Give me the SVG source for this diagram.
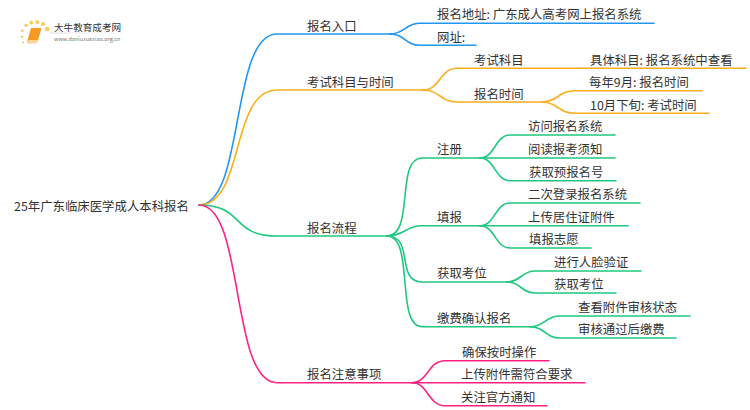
<svg xmlns="http://www.w3.org/2000/svg" width="750" height="410" viewBox="0 0 750 410">
<style>
text{font-family:"Noto Sans CJK SC","Noto Sans",sans-serif;font-size:12.4px;fill:#333}
.c path{fill:none;stroke-width:1.6;stroke-linecap:round}
.b path{stroke:#2196f3}.o path{stroke:#fbad1c}.g path{stroke:#1fc77e}.p path{stroke:#ff2280}
</style>
<defs><linearGradient id="fade"><stop offset="0" stop-color="#ddd"/><stop offset="1" stop-color="#ddd" stop-opacity="0"/></linearGradient></defs>
<rect width="750" height="410" fill="#fff"/>
<g id="logo">
<g fill="#fbc95a"><circle cx="47.300" cy="29" r="2.300"/><circle cx="43" cy="24" r="2"/><circle cx="37.300" cy="22" r="2"/><circle cx="31.300" cy="22.700" r="1.900"/><circle cx="26" cy="25.300" r="1.600"/><circle cx="22.300" cy="30.700" r="1.400"/><circle cx="22" cy="36.700" r="1.200"/><circle cx="23.300" cy="42.300" r="1"/></g>
<path d="M31 28H40.500Q41.500 28 41 30L38 40.500H29L27 42Z" fill="#f59a23"/><path d="M27 42Q27.500 40.500 29 40.500H38L37 43Q36.800 43.500 36 43.500H28Q27 43.500 27 42Z" fill="#fbd49a"/>
<rect x="50" y="32.500" width="85" height="1" fill="url(#fade)"/>
<text x="54" y="31" style="font-size:9.600px">大牛教育成考网</text>
<text x="54" y="41" style="font-size:5.500px;fill:#777">www.daniuxuexiao.org.cn</text>
</g>
<g id="connectors" class="c">
<g class="b"><path d="M199 205C245 205 230 34 277 34H390"/><path d="M390 34C405 34 405 23.300 420 23.300H654"/><path d="M390 34C405 34 405 45.300 420 45.300H476"/></g>
<g class="o"><path d="M199 205C245 205 230 90 277 90H423"/><path d="M423 90C440 90 440 68.300 457 68.300H746"/><path d="M423 90C440 90 440 102 457 102H542"/><path d="M542 102C558 102 558 90.700 575 90.700H702"/><path d="M542 102C558 102 558 113.300 575 113.300H709"/></g>
<g class="g"><path d="M199 205C245 205 230 236 277 236H387"/><path d="M387 236C415 236 395 158 422 158H480"/><path d="M387 236C405 236 405 225.700 422 225.700H480"/><path d="M387 236C415 236 395 282 422 282H507"/><path d="M387 236C415 236 395 326.700 422 326.700H530"/>
<path d="M480 158C495 158 495 135 510 135H615"/><path d="M480 158H615"/><path d="M480 158C495 158 495 180.700 510 180.700H616"/>
<path d="M480 225.700C495 225.700 495 203 510 203H640"/><path d="M480 225.700H628"/><path d="M480 225.700C495 225.700 495 248 510 248H591"/>
<path d="M507 282C521 282 521 271 535 271H641"/><path d="M507 282C521 282 521 293 535 293H616"/>
<path d="M530 326.700C545 326.700 545 316 560 316H690"/><path d="M530 326.700C545 326.700 545 338 560 338H676"/></g>
<g class="p"><path d="M199 205C245 205 230 382.700 277 382.700H412"/><path d="M412 382.700C428 382.700 428 360.700 445 360.700H549"/><path d="M412 382.700H585"/><path d="M412 382.700C428 382.700 428 405.700 445 405.700H547"/></g>
</g>
<g id="n0"><text x="14" y="210.500">25年广东临床医学成人本科报名</text></g>
<g id="n1"><text x="307" y="30.500">报名入口</text></g>
<g id="n2"><text x="437" y="19">报名地址: 广东成人高考网上报名系统</text></g>
<g id="n3"><text x="437" y="41.500">网址:</text></g>
<g id="n4"><text x="307" y="86.500">考试科目与时间</text></g>
<g id="n5"><text x="474" y="64.500">考试科目</text></g>
<g id="n6"><text x="590" y="64.500">具体科目: 报名系统中查看</text></g>
<g id="n7"><text x="474" y="98.500">报名时间</text></g>
<g id="n8"><text x="589" y="86.500">每年9月: 报名时间</text></g>
<g id="n9"><text x="590" y="109.500">10月下旬: 考试时间</text></g>
<g id="n10"><text x="307" y="232.500">报名流程</text></g>
<g id="n11"><text x="437" y="154">注册</text></g>
<g id="n12"><text x="528" y="131">访问报名系统</text></g>
<g id="n13"><text x="528" y="154">阅读报考须知</text></g>
<g id="n14"><text x="529" y="177">获取预报名号</text></g>
<g id="n15"><text x="437" y="221.500">填报</text></g>
<g id="n16"><text x="528" y="199">二次登录报名系统</text></g>
<g id="n17"><text x="528" y="221.500">上传居住证附件</text></g>
<g id="n18"><text x="529" y="244">填报志愿</text></g>
<g id="n19"><text x="437" y="278">获取考位</text></g>
<g id="n20"><text x="554" y="266.500">进行人脸验证</text></g>
<g id="n21"><text x="554" y="289">获取考位</text></g>
<g id="n22"><text x="437" y="322.500">缴费确认报名</text></g>
<g id="n23"><text x="578" y="311.500">查看附件审核状态</text></g>
<g id="n24"><text x="578" y="334">审核通过后缴费</text></g>
<g id="n25"><text x="307" y="379">报名注意事项</text></g>
<g id="n26"><text x="462" y="356.500">确保按时操作</text></g>
<g id="n27"><text x="461" y="379">上传附件需符合要求</text></g>
<g id="n28"><text x="461" y="401.500">关注官方通知</text></g>
</svg>
